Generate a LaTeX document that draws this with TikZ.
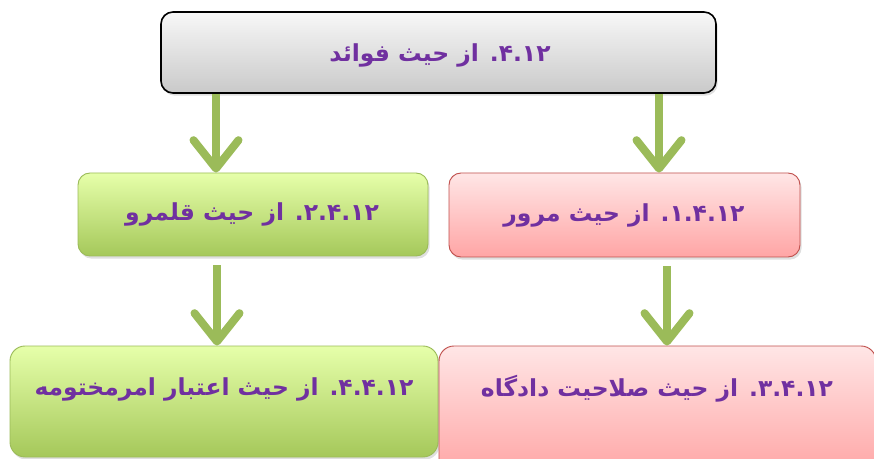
\documentclass[tikz,border=0pt]{standalone}
\usepackage{fontspec}
\newfontfamily\arabicfont[Script=Arabic]{DejaVu Sans}
\TeXXeTstate=1
\usetikzlibrary{fit}
\usetikzlibrary{arrows.meta}
\usetikzlibrary{shadows}
\definecolor{labelpurple}{RGB}{112,48,160}
\definecolor{arrowgreen}{RGB}{155,187,89}
\definecolor{greentop}{RGB}{230,255,170}
\definecolor{greenbottom}{RGB}{165,200,90}
\definecolor{pinktop}{RGB}{255,230,230}
\definecolor{pinkbottom}{RGB}{255,165,165}
\definecolor{pinkborder}{RGB}{192,80,77}
\begin{document}
\begin{tikzpicture}[x=0.03cm,y=-0.03cm,
	box/.style={rounded corners=0.36cm, inner sep=0pt, line width=0.8pt,
		drop shadow={opacity=0.25,shadow xshift=0.05cm,shadow yshift=-0.08cm}},
	greybox/.style={box, draw=black, line width=1.4pt, top color=gray!6, bottom color=gray!42},
	greenbox/.style={box, draw=arrowgreen, top color=greentop, bottom color=greenbottom},
	pinkbox/.style={box, draw=pinkborder, top color=pinktop, bottom color=pinkbottom},
	lbl/.style={text=labelpurple, font=\arabicfont\bfseries\fontsize{20}{24}\selectfont},
	arr/.style={draw=arrowgreen, line width=0.24cm,
		-{Straight Barb[round,length=0.85cm,width=1.35cm]}}]
		\useasboundingbox (0,0) rectangle (874,459);
		\clip (0,0) rectangle (874,459);
%		boxes
		\node [greybox, fit={(161,12) (716,93)}] (top) {};
		\node [greenbox, fit={(78,173) (428,256)}] (grange) {};
		\node [pinkbox, fit={(449,173) (800,257)}] (ptime) {};
		\node [greenbox, rounded corners=0.45cm, fit={(10,346) (438,457)}] (gres) {};
		\node [pinkbox, rounded corners=0.45cm, fit={(439,346) (876,475)}] (pcourt) {};
%		labels
		\node [lbl] (ttop) at (440,55) {\beginR ۴.۱۲. از حیث فوائد\endR};
		\node [lbl] (trange) at (252,214) {\beginR ۲.۴.۱۲. از حیث قلمرو\endR};
		\node [lbl] (ttime) at (624,215) {\beginR ۱.۴.۱۲. از حیث مرور\endR};
		\node [lbl] (tres) at (224,389) {\beginR ۴.۴.۱۲. از حیث اعتبار امرمختومه\endR};
		\node [lbl] (tcourt) at (657,389) {\beginR ۳.۴.۱۲. از حیث صلاحیت دادگاه\endR};
%		arrows
		\coordinate (xl) at (216,0);
		\coordinate (xr) at (659,0);
		\coordinate (xll) at (217,0);
		\coordinate (xrr) at (667,0);
		\draw [arr] (top.south -| xl) -- (grange.north -| xl);
		\draw [arr] (top.south -| xr) -- (ptime.north -| xr);
		\draw [arr, shorten <=0.27cm] (grange.south -| xll) -- (gres.north -| xll);
		\draw [arr, shorten <=0.27cm] (ptime.south -| xrr) -- (pcourt.north -| xrr);
	\end{tikzpicture}
\end{document}
